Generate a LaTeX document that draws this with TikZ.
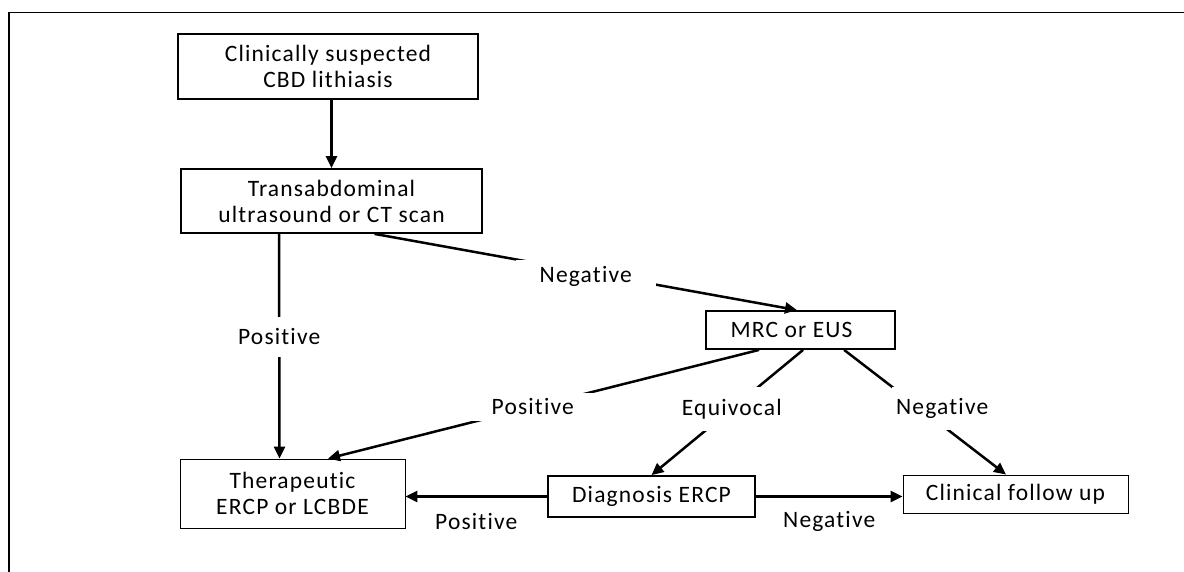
\documentclass[tikz,border=0pt]{standalone}
\usepackage{fontspec}
\setmainfont[LetterSpace=5,Ligatures=NoCommon]{Carlito}
\usetikzlibrary{arrows.meta}
\begin{document}
\begin{tikzpicture}[x=1pt,y=-1pt,
  txt/.style={font=\fontsize{23.5}{26}\selectfont},
  box/.style={txt,draw,line width=1.8pt,align=center,inner sep=0pt},
  thinbox/.style={box,line width=0.9pt},
  lbl/.style={txt,fill=white,inner xsep=6pt,inner ysep=10pt},
  conn/.style={line width=2.5pt},
  arr/.style={conn,-{Triangle[length=12pt,width=11pt]}}]
\useasboundingbox (0,0) rectangle (1184,572);
\draw[line width=1.5pt] (9,590) -- (9,12.5) -- (1200,12.5);

\node[box,minimum width=300pt,minimum height=65pt] (clin) at (328,66.5) {Clinically suspected\\CBD lithiasis};
\node[box,minimum width=301pt,minimum height=64pt] (trans) at (331.5,201) {Transabdominal\\ultrasound or CT scan};
\node[box,minimum width=189pt,minimum height=38pt] (mrc) at (800.5,330) {MRC or EUS\hspace*{18pt}};
\node[thinbox,minimum width=225pt,minimum height=69pt] (ther) at (292.5,493.5) {Therapeutic\\ERCP or LCBDE};
\node[box,minimum width=207pt,minimum height=41pt] (diag) at (651.5,496.5) {Diagnosis ERCP};
\node[thinbox,minimum width=225pt,minimum height=38pt] (follow) at (1015.5,494) {Clinical follow up};

\draw[arr] (clin.south -| trans.north) -- (trans.north);
\draw[arr] ([xshift=-52.5pt]trans.south) -- node[lbl,pos=0.458,inner xsep=2pt,inner ysep=12pt] (lposa) {Positive} ([xshift=-13pt]ther.north);
\draw[arr] ([xshift=43pt]trans.south) -- node[lbl,pos=0.5,inner xsep=24pt,inner ysep=6pt,yshift=-4pt] (lnega) {Negative} ([xshift=-3.5pt]mrc.north);
\draw[arr] ([xshift=54pt]mrc.south west) -- node[lbl,pos=0.525,inner xsep=39pt,inner ysep=6pt] (lposb) {Positive} ([xshift=35.5pt]ther.north);
\draw[arr] ([xshift=98pt]mrc.south west) -- node[lbl,pos=0.47,inner xsep=4pt,inner ysep=12pt] (lequ) {Equivocal} (diag.north);
\draw[arr] ([xshift=139pt]mrc.south west) -- node[lbl,pos=0.47,xshift=22pt,inner xsep=4pt,inner ysep=11pt] (lnegb) {Negative} ([xshift=-9.5pt]follow.north);
\draw[arr] (diag.west) -- node[txt,midway,yshift=-25pt] (lposc) {Positive} (diag.west -| ther.east);
\draw[arr] (diag.east) -- node[txt,midway,yshift=-25pt] (lnegc) {Negative} (diag.east -| follow.west);
\end{tikzpicture}
\end{document}
